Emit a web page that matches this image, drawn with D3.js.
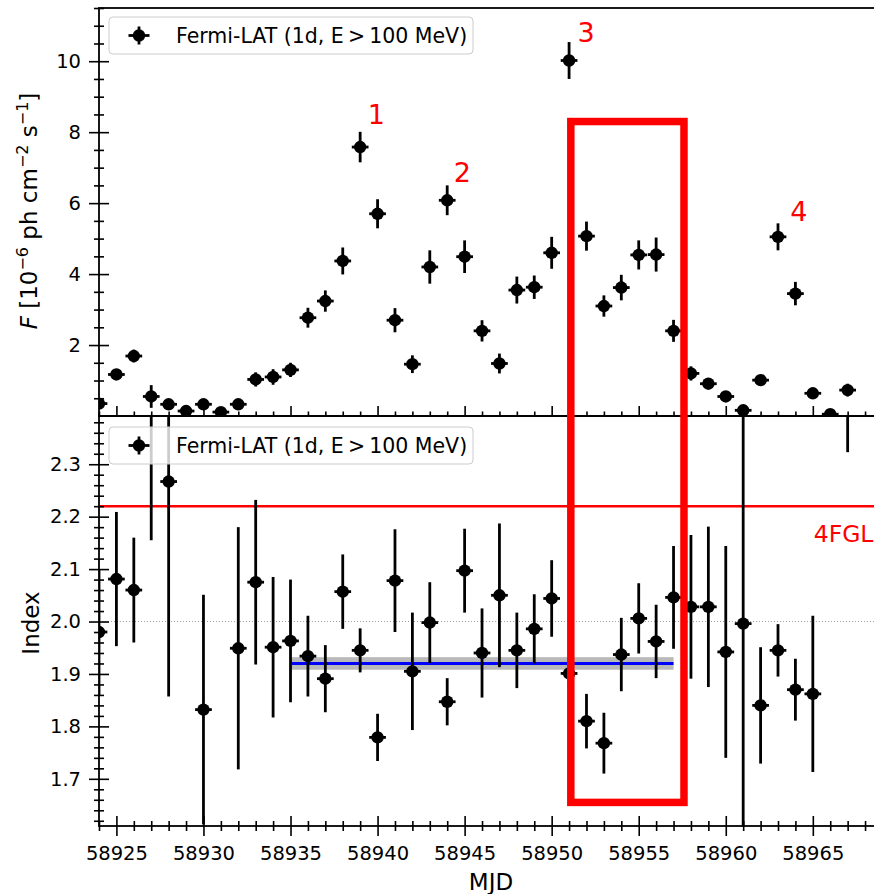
<!DOCTYPE html>
<html><head><meta charset="utf-8">
<script src="https://cdn.jsdelivr.net/npm/d3@7"></script>
<style>
body{margin:0;background:#fff}
svg{display:block}
text{font-family:"DejaVu Sans",sans-serif}
</style>
</head><body>
<script>
// ---------------- data ----------------
const mjd = [58924,58925,58926,58927,58928,58929,58930,58931,58932,58933,58934,58935,58936,58937,58938,58939,58940,58941,58942,58943,58944,58945,58946,58947,58948,58949,58950,58951,58952,58953,58954,58955,58956,58957,58958,58959,58960,58961,58962,58963,58964,58965,58966,58967];
const flux = [0.35,1.17,1.69,0.55,0.33,0.14,0.33,0.11,0.33,1.03,1.10,1.30,2.77,3.24,4.37,7.58,5.70,2.70,1.46,4.20,6.08,4.49,2.40,1.48,3.55,3.63,4.60,10.02,5.07,3.10,3.62,4.54,4.55,2.40,1.20,0.91,0.55,0.16,1.01,5.05,3.45,0.64,0.05,0.73];
const fluxErr = [0.10,0.15,0.18,0.32,0.12,0.10,0.12,0.08,0.12,0.20,0.22,0.20,0.28,0.30,0.38,0.43,0.41,0.34,0.25,0.47,0.42,0.46,0.30,0.28,0.38,0.33,0.45,0.52,0.41,0.30,0.36,0.41,0.48,0.31,0.20,0.15,0.12,0.10,0.12,0.38,0.33,0.15,0.08,0.18];
const index = [1.980,2.081,2.060,2.450,2.267,null,1.832,null,1.949,2.075,1.951,1.963,1.934,1.891,2.057,1.945,1.779,2.078,1.905,1.998,1.847,2.097,1.940,2.050,1.945,1.986,2.044,1.901,1.810,1.768,1.937,2.006,1.962,2.046,2.028,2.028,1.942,1.996,1.840,1.945,1.870,1.862,null,2.550];
const indexErr = [0.12,0.128,0.100,0.295,0.410,null,0.219,null,0.231,0.157,0.134,0.117,0.077,0.064,0.071,0.042,0.045,0.098,0.112,0.077,0.045,0.080,0.085,0.137,0.072,0.066,0.073,0.030,0.052,0.058,0.070,0.067,0.070,0.098,0.137,0.153,0.202,0.450,0.111,0.050,0.059,0.149,null,0.227];
const binHalfWidth = 0.48;

const mjdTicks = [58925,58930,58935,58940,58945,58950,58955,58960,58965];
const fluxTicks = [2,4,6,8,10];
const indexTicks = [1.7,1.8,1.9,2.0,2.1,2.2,2.3];

const flareLabels = ["1","2","3","4"];
const flareMJD = [58939.93,58944.87,58951.98,58964.2];
const flareFlux = [8.22,6.59,10.54,5.49];

const fitRange = [58935,58957];
const fitIndex = 1.92;
const fitErr = 0.012;
const fglIndex = 2.22;
const fglLabel = "4FGL";
const fglLabelPos = [58965.05, 2.151];
const refIndex = 2.0;

const boxMJD = [58951.1,58957.6];
const boxFluxTop = 8.3;
const boxIndexBottom = 1.655;

const legendText = "Fermi-LAT (1d, E\u2009>\u2009100 MeV)";

// ---------------- layout ----------------
const W = 874, H = 894;
const L = 99, R = 875.5;
const topY0 = 8, midY = 416, botY1 = 826;

const x = d3.scaleLinear().domain([58924,58968.6]).range([L,R]);
const yF = d3.scaleLinear().domain([0,11.5]).range([midY,topY0]);
const yI = d3.scaleLinear().domain([1.61,2.392]).range([botY1,midY]);

const svg = d3.select("body").append("svg").attr("width",W).attr("height",H);
const defs = svg.append("defs");
defs.append("clipPath").attr("id","clipTop").append("rect")
  .attr("x",L).attr("y",topY0).attr("width",R-L).attr("height",midY-topY0);
defs.append("clipPath").attr("id","clipBot").append("rect")
  .attr("x",L).attr("y",midY).attr("width",R-L).attr("height",botY1-midY);

const LW = 2.8, MR = 6.2;
function drawPoints(g, xs, ys, errs, ysc){
  const data = xs.map((d,i)=>({x:d,y:ys[i],e:errs[i]})).filter(d=>d.y!=null);
  g.selectAll("line.ye").data(data).join("line")
    .attr("x1",d=>x(d.x)).attr("x2",d=>x(d.x))
    .attr("y1",d=>ysc(d.y-d.e)).attr("y2",d=>ysc(d.y+d.e))
    .attr("stroke","#000").attr("stroke-width",LW);
  g.selectAll("line.xe").data(data).join("line")
    .attr("x1",d=>x(d.x-binHalfWidth)).attr("x2",d=>x(d.x+binHalfWidth))
    .attr("y1",d=>ysc(d.y)).attr("y2",d=>ysc(d.y))
    .attr("stroke","#000").attr("stroke-width",LW);
  g.selectAll("circle").data(data).join("circle")
    .attr("cx",d=>x(d.x)).attr("cy",d=>ysc(d.y)).attr("r",MR).attr("fill","#000");
}

// ---------- top panel ----------
const gTop = svg.append("g").attr("clip-path","url(#clipTop)");
drawPoints(gTop.append("g"), mjd, flux, fluxErr, yF);
gTop.selectAll("text.fl").data(flareLabels).join("text")
  .attr("x",(d,i)=>x(flareMJD[i])).attr("y",(d,i)=>yF(flareFlux[i]))
  .attr("text-anchor","middle").attr("font-size",27).attr("fill","#ff0000").text(d=>d);

// ---------- bottom panel ----------
const gBot = svg.append("g").attr("clip-path","url(#clipBot)");
gBot.append("line").attr("x1",L).attr("x2",R).attr("y1",yI(refIndex)).attr("y2",yI(refIndex))
  .attr("stroke","#a0a0a0").attr("stroke-width",1).attr("stroke-dasharray","1,2");
gBot.append("rect").attr("x",x(fitRange[0])).attr("width",x(fitRange[1])-x(fitRange[0]))
  .attr("y",yI(fitIndex+fitErr)).attr("height",yI(fitIndex-fitErr)-yI(fitIndex+fitErr))
  .attr("fill","#808080").attr("opacity",0.55);
gBot.append("line").attr("x1",x(fitRange[0])).attr("x2",x(fitRange[1]))
  .attr("y1",yI(fitIndex)).attr("y2",yI(fitIndex)).attr("stroke","#0000ff").attr("stroke-width",3);
gBot.append("line").attr("x1",L).attr("x2",R).attr("y1",yI(fglIndex)).attr("y2",yI(fglIndex))
  .attr("stroke","#ff0000").attr("stroke-width",2.5);
gBot.append("text").attr("x",x(fglLabelPos[0])).attr("y",yI(fglLabelPos[1]))
  .attr("font-size",23.5).attr("fill","#ff0000").text(fglLabel);
drawPoints(gBot.append("g"), mjd, index, indexErr, yI);

// ---------- axes ----------
function inout(g, major, horizontal){
  const s = major ? 10 : 5;
  g.selectAll(".tick line").attr(horizontal?"y1":"x1", s).attr(horizontal?"y2":"x2", -s)
    .attr("stroke-width", 1.6);
}
function styleAxis(g){
  g.select(".domain").remove();
  g.selectAll("text").attr("font-size",19.5).attr("fill","#000").attr("font-family","DejaVu Sans");
}
const range = (a,b,s)=>{const r=[];for(let v=a;v<=b+1e-9;v+=s)r.push(+v.toFixed(4));return r;};

// top panel y
const fMinor = range(0.5,11.5,0.5).filter(v=>!fluxTicks.includes(v));
let g = svg.append("g").attr("transform",`translate(${L},0)`)
  .call(d3.axisLeft(yF).tickValues(fMinor).tickFormat("").tickSize(5));
styleAxis(g); inout(g,false,false);
g = svg.append("g").attr("transform",`translate(${L},0)`)
  .call(d3.axisLeft(yF).tickValues(fluxTicks).tickFormat(d3.format("d")).tickSize(10).tickPadding(8));
styleAxis(g); inout(g,true,false);

// top panel x ticks (inside only)
const xMinor = range(58924,58968,1).filter(v=>!mjdTicks.includes(v));
g = svg.append("g").attr("transform",`translate(0,${midY})`)
  .call(d3.axisTop(x).tickValues(xMinor).tickFormat("").tickSize(4.5));
styleAxis(g); g.selectAll(".tick line").attr("stroke-width",1.6);
g = svg.append("g").attr("transform",`translate(0,${midY})`)
  .call(d3.axisTop(x).tickValues(mjdTicks).tickFormat("").tickSize(10));
styleAxis(g); g.selectAll(".tick line").attr("stroke-width",1.6);

// bottom panel y
const iMinor = range(1.62,2.38,0.02).filter(v=>!indexTicks.some(t=>Math.abs(t-v)<1e-6));
g = svg.append("g").attr("transform",`translate(${L},0)`)
  .call(d3.axisLeft(yI).tickValues(iMinor).tickFormat("").tickSize(5));
styleAxis(g); inout(g,false,false);
g = svg.append("g").attr("transform",`translate(${L},0)`)
  .call(d3.axisLeft(yI).tickValues(indexTicks).tickFormat(d3.format(".1f")).tickSize(10).tickPadding(8));
styleAxis(g); inout(g,true,false);

// bottom x
g = svg.append("g").attr("transform",`translate(0,${botY1})`)
  .call(d3.axisBottom(x).tickValues(xMinor).tickFormat("").tickSize(5));
styleAxis(g); inout(g,false,true);
g = svg.append("g").attr("transform",`translate(0,${botY1})`)
  .call(d3.axisBottom(x).tickValues(mjdTicks).tickFormat(d3.format("d")).tickSize(10).tickPadding(9.7));
styleAxis(g); inout(g,true,true);

// spines
[[topY0,midY],[midY,botY1]].forEach(([a,b])=>{
  svg.append("rect").attr("x",L).attr("y",a).attr("width",R-L).attr("height",b-a)
    .attr("fill","none").attr("stroke","#000").attr("stroke-width",1.8);
});

// legends
function legend(y0){
  const lg = svg.append("g");
  lg.append("rect").attr("x",109).attr("y",y0).attr("width",364).attr("height",37).attr("rx",4)
    .attr("fill","#fff").attr("fill-opacity",0.8).attr("stroke","#cccccc").attr("stroke-width",1);
  const cx = 139, cy = y0+18.5;
  lg.append("line").attr("x1",cx).attr("x2",cx).attr("y1",cy-9).attr("y2",cy+9).attr("stroke","#000").attr("stroke-width",LW);
  lg.append("line").attr("x1",cx-10.5).attr("x2",cx+10.5).attr("y1",cy).attr("y2",cy).attr("stroke","#000").attr("stroke-width",LW);
  lg.append("circle").attr("cx",cx).attr("cy",cy).attr("r",MR).attr("fill","#000");
  lg.append("text").attr("x",176).attr("y",y0+26).attr("font-size",20.5).attr("fill","#000").text(legendText);
}
legend(17);
legend(427);

// axis labels
const fl = svg.append("text").attr("transform","translate(37,211) rotate(-90)")
  .attr("text-anchor","middle").attr("font-size",23).attr("fill","#000");
fl.append("tspan").attr("font-style","italic").text("F");
fl.append("tspan").text(" [10");
fl.append("tspan").attr("font-size",16).attr("dy",-9).text("\u22126");
fl.append("tspan").attr("dy",9).text(" ph cm");
fl.append("tspan").attr("font-size",16).attr("dy",-9).text("\u22122");
fl.append("tspan").attr("dy",9).text(" s");
fl.append("tspan").attr("font-size",16).attr("dy",-9).text("\u22121");
fl.append("tspan").attr("dy",9).text("]");

svg.append("text").attr("transform","translate(39,623) rotate(-90)")
  .attr("text-anchor","middle").attr("font-size",23).attr("fill","#000").text("Index");
svg.append("text").attr("x",491).attr("y",890).attr("text-anchor","middle")
  .attr("font-size",23).attr("fill","#000").text("MJD");

// red box spanning both panels
svg.append("rect").attr("x",x(boxMJD[0])).attr("y",yF(boxFluxTop))
  .attr("width",x(boxMJD[1])-x(boxMJD[0])).attr("height",yI(boxIndexBottom)-yF(boxFluxTop))
  .attr("fill","none").attr("stroke","#ff0000").attr("stroke-width",7.5);
</script>
</body></html>
